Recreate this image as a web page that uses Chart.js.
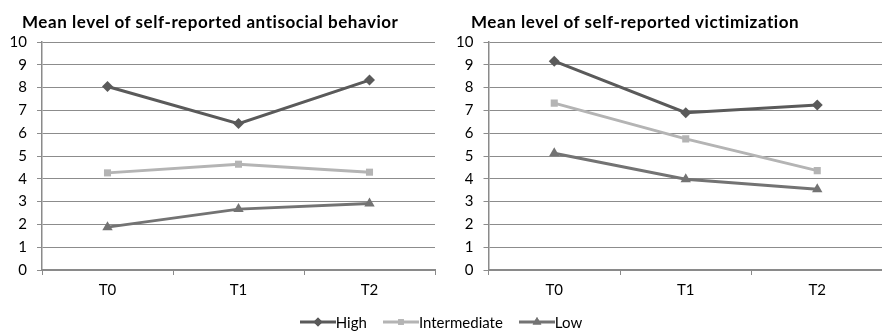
<!DOCTYPE html>
<html>
<head>
<meta charset="utf-8">
<script src="https://cdn.jsdelivr.net/npm/chart.js@4.4.1/dist/chart.umd.min.js"></script>
<style>
  html, body { margin: 0; padding: 0; background: #fff; width: 882px; height: 332px; overflow: hidden; position: relative; font-family: Lato, "Open Sans", sans-serif; }
  .box { position: absolute; top: 0; height: 300px; }
  .title { position: absolute; top: 11px; font-weight: bold; font-size: 17px; letter-spacing: 0.55px; color: #000; white-space: nowrap; }
  #legend { position: absolute; top: 310px; left: 0; width: 882px; text-align: center; font-size: 15px; line-height: 18px; color: #000; }
  .item { display: inline-block; margin: 0 8px; vertical-align: middle; }
  .item canvas { vertical-align: middle; }
</style>
</head>
<body>
<div class="box" style="left:0;width:441px;"><canvas id="c1" width="441" height="300"></canvas></div>
<div class="box" style="left:441px;width:448px;"><canvas id="c2" width="448" height="300"></canvas></div>
<div class="title" style="left:22px;">Mean level of self-reported antisocial behavior</div>
<div class="title" style="left:471px;">Mean level of self-reported victimization</div>
<div id="legend"></div>
<script>
const categories = ["T0", "T1", "T2"];
const seriesNames = ["High", "Intermediate", "Low"];
const antisocialHigh = [8.05, 6.42, 8.33];
const antisocialIntermediate = [4.26, 4.64, 4.29];
const antisocialLow = [1.88, 2.67, 2.92];
const victimHigh = [9.16, 6.90, 7.24];
const victimIntermediate = [7.32, 5.75, 4.36];
const victimLow = [5.12, 3.98, 3.54];
const yTicks = [0, 1, 2, 3, 4, 5, 6, 7, 8, 9, 10];

const colors = ["#5a5a5a", "#b4b4b4", "#737373"];
const styles = ["rectRot", "rect", "triangle"];
const radii = [5.5, 5, 6];

function makeDatasets(vals) {
  return vals.map((v, i) => ({
    label: seriesNames[i],
    data: v,
    borderColor: colors[i],
    backgroundColor: colors[i],
    borderWidth: 3,
    pointStyle: styles[i],
    pointRadius: radii[i],
    pointHoverRadius: radii[i],
    pointBorderWidth: 0,
    tension: 0
  }));
}

function makeChart(id, vals, yWidth) {
  return new Chart(document.getElementById(id), {
    type: 'line',
    data: { labels: categories, datasets: makeDatasets(vals) },
    options: {
      responsive: false,
      animation: false,
      layout: { padding: { top: 42, right: 0, bottom: 0, left: 0 } },
      plugins: { legend: { display: false }, tooltip: { enabled: false }, title: { display: false } },
      scales: {
        y: {
          min: 0, max: 10,
          afterFit: (s) => { s.width = yWidth; },
          afterBuildTicks: (s) => { s.ticks = yTicks.map(v => ({ value: v })); },
          ticks: { color: "#000", font: { family: "Lato", size: 15 }, padding: 10 },
          grid: { color: "#8c8c8c", lineWidth: 1, tickLength: 5, drawTicks: true },
          border: { color: "#8a8a8a", width: 1.5 }
        },
        x: {
          offset: true,
          afterFit: (s) => { s.height = 30; },
          ticks: { color: "#000", font: { family: "Lato", size: 15 }, padding: 6 },
          grid: { offset: true, drawOnChartArea: false, drawTicks: true, tickLength: 5, color: "#8a8a8a" },
          border: { color: "#8a8a8a", width: 2 }
        }
      }
    }
  });
}

makeChart('c1', [antisocialHigh, antisocialIntermediate, antisocialLow], 42);
makeChart('c2', [victimHigh, victimIntermediate, victimLow], 47.5);

// legend
const leg = document.getElementById('legend');
seriesNames.forEach((name, i) => {
  const span = document.createElement('span');
  span.className = 'item';
  const cv = document.createElement('canvas');
  cv.width = 36; cv.height = 14;
  const ctx = cv.getContext('2d');
  ctx.strokeStyle = colors[i]; ctx.lineWidth = 3;
  ctx.beginPath(); ctx.moveTo(0, 7); ctx.lineTo(36, 7); ctx.stroke();
  ctx.fillStyle = colors[i];
  Chart.helpers.drawPoint(ctx, { pointStyle: styles[i], radius: radii[i] - 1, rotation: 0, borderWidth: 0 }, 18, 7);
  ctx.fill();
  span.appendChild(cv);
  const t = document.createElement('span');
  t.textContent = name;
  t.style.verticalAlign = 'middle';
  span.appendChild(t);
  leg.appendChild(span);
});
</script>
</body>
</html>
